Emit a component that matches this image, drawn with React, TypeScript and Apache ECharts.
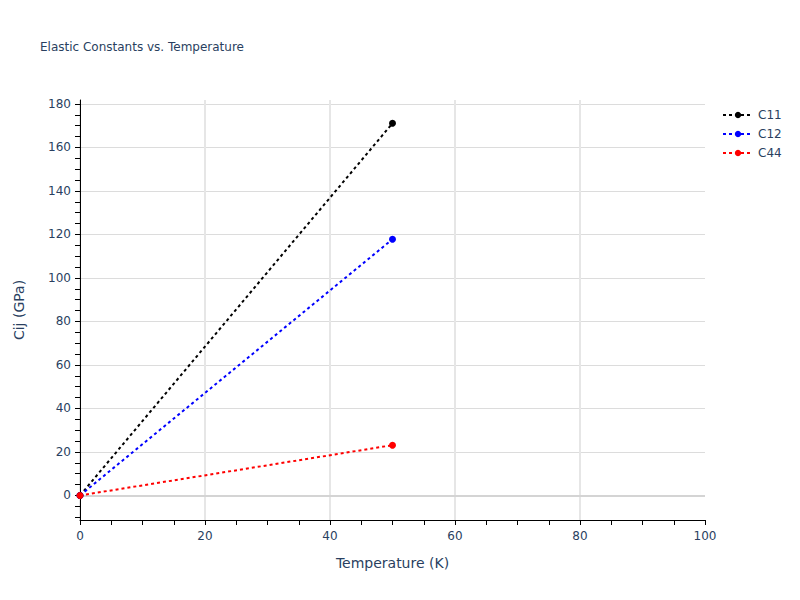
import { useEffect, useRef } from 'react'
import * as echarts from 'echarts'

// temperatures (K) and elastic constants (GPa)
const temperatures = [0, 50]
const c11 = [0, 171.1]
const c12 = [0, 117.8]
const c44 = [0, 23.1]

const seriesNames = ['C11', 'C12', 'C44']
const seriesColors = ['#000000', '#0000ff', '#ff0000']

const xMajorTicks = [0, 20, 40, 60, 80, 100]
const xGridTicks = [0, 20, 40, 60, 80]
const xMinorTicks = [0, 5, 10, 15, 20, 25, 30, 35, 40, 45, 50, 55, 60, 65, 70, 75, 80, 85, 90, 95, 100]
const yMajorTicks = [0, 20, 40, 60, 80, 100, 120, 140, 160, 180]
const yMinorTicks = [-10, -5, 0, 5, 10, 15, 20, 25, 30, 35, 40, 45, 50, 55, 60, 65, 70, 75, 80, 85, 90, 95, 100, 105, 110, 115, 120, 125, 130, 135, 140, 145, 150, 155, 160, 165, 170, 175, 180]

const xRange = [0, 100]
const yRange = [-11.3, 181.8]

const TEXT = '#2a3f5f'
const FONT = '"DejaVu Sans", verdana, arial, sans-serif'

export default function App() {
  const ref = useRef<HTMLDivElement>(null)

  useEffect(() => {
    document.body.style.margin = '0'
    if (!ref.current) return
    const chart = echarts.init(ref.current, undefined, { renderer: 'svg' })
    const values = [c11, c12, c44]

    const tickStyle = { color: '#000', width: 1 }

    const option: echarts.EChartsOption = {
      animation: false,
      backgroundColor: '#fff',
      textStyle: { fontFamily: FONT },
      title: {
        text: 'Elastic Constants vs. Temperature',
        left: 35,
        top: 36,
        textStyle: { fontSize: 12, fontWeight: 'normal', color: TEXT, fontFamily: FONT },
      },
      legend: {
        orient: 'vertical',
        left: 717,
        top: 104,
        itemWidth: 30,
        itemHeight: 8,
        itemGap: 7,
        data: seriesNames,
        textStyle: { fontSize: 12, color: TEXT, fontFamily: FONT },
      },
      grid: { left: 80, right: 95, top: 100, bottom: 80 },
      xAxis: [
        {
          type: 'value',
          min: xRange[0],
          max: xRange[1],
          name: 'Temperature (K)',
          nameLocation: 'middle',
          nameGap: 36,
          nameTextStyle: { fontSize: 14, color: TEXT, fontFamily: FONT },
          axisLine: { show: true, onZero: false, lineStyle: { color: '#000', width: 1 } },
          axisTick: { show: true, length: 5, customValues: xGridTicks, lineStyle: tickStyle },
          axisLabel: { customValues: xMajorTicks, color: TEXT, fontSize: 12, margin: 10, fontFamily: FONT },
          splitLine: { show: true, lineStyle: { color: '#e6e6e6', width: 2 } },
        },
        {
          type: 'value',
          min: xRange[0],
          max: xRange[1],
          position: 'bottom',
          axisLine: { show: false, onZero: false },
          axisTick: { show: true, length: 5, customValues: xMinorTicks, lineStyle: tickStyle },
          axisLabel: { show: false },
          splitLine: { show: false },
        },
      ],
      yAxis: [
        {
          type: 'value',
          min: yRange[0],
          max: yRange[1],
          name: 'Cij (GPa)',
          nameLocation: 'middle',
          nameGap: 54,
          nameTextStyle: { fontSize: 14, color: TEXT, fontFamily: FONT },
          axisLine: { show: true, onZero: false, lineStyle: { color: '#000', width: 1 } },
          axisTick: { show: true, length: 5, customValues: yMajorTicks, lineStyle: tickStyle },
          axisLabel: { customValues: yMajorTicks, color: TEXT, fontSize: 12, margin: 9, fontFamily: FONT },
          splitLine: { show: true, lineStyle: { color: '#dcdcdc', width: 1 } },
        },
        {
          type: 'value',
          min: yRange[0],
          max: yRange[1],
          position: 'left',
          axisLine: { show: false, onZero: false },
          axisTick: { show: true, length: 5, customValues: yMinorTicks, lineStyle: tickStyle },
          axisLabel: { show: false },
          splitLine: { show: false },
        },
      ],
      series: seriesNames.map((name, i) => ({
        name,
        type: 'line',
        xAxisIndex: 0,
        yAxisIndex: 0,
        data: temperatures.map((t, j) => [t, values[i][j]]),
        symbol: 'circle',
        symbolSize: 7,
        z: 2 + i,
        lineStyle: { color: seriesColors[i], width: 2, type: [3, 3] },
        itemStyle: { color: seriesColors[i] },
        markLine:
          i === 0
            ? {
                silent: true,
                symbol: 'none',
                label: { show: false },
                lineStyle: { color: '#d4d4d4', width: 2, type: 'solid' },
                data: [{ yAxis: 0 }],
                z: 1,
              }
            : undefined,
      })),
    }

    chart.setOption(option)
    return () => chart.dispose()
  }, [])

  return <div ref={ref} style={{ width: 800, height: 600 }} />
}
